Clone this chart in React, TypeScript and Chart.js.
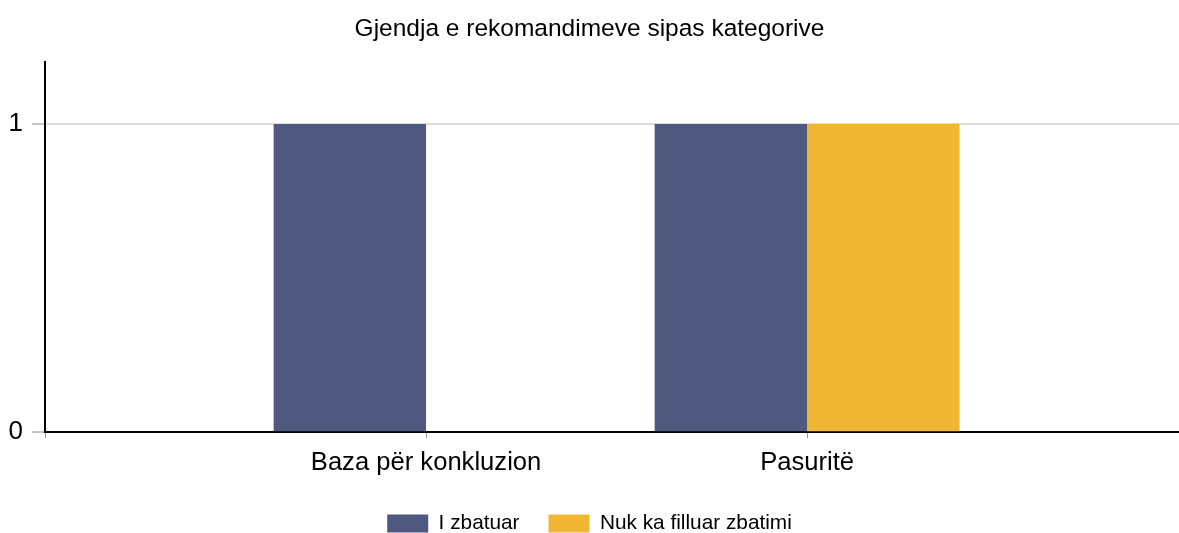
import { useEffect, useRef } from 'react';
import { Chart, registerables } from 'chart.js';

Chart.register(...registerables);

const FONT = "'Liberation Sans', Arial, Helvetica, sans-serif";

const title = 'Gjendja e rekomandimeve sipas kategorive';
const categories = ['Baza për konkluzion', 'Pasuritë'];
const seriesNames = ['I zbatuar', 'Nuk ka filluar zbatimi'];
const iZbatuar = [1, 1];
const nukKaFilluar = [0, 1];
const seriesColors = ['#4F587E', '#F2B732'];
const yTicks = [0, 1];
const yMax = 1.2;

export default function App() {
  const ref = useRef<HTMLCanvasElement>(null);

  useEffect(() => {
    const toPoints = (vals: number[]) => categories.map((_, i) => ({ x: i, y: vals[i] }));
    const chart = new Chart(ref.current!, {
      type: 'bar',
      data: {
        datasets: [
          {
            label: seriesNames[0],
            data: toPoints(iZbatuar),
            backgroundColor: seriesColors[0],
            borderWidth: 0,
            barPercentage: 1,
            categoryPercentage: 0.8,
          },
          {
            label: seriesNames[1],
            data: toPoints(nukKaFilluar),
            backgroundColor: seriesColors[1],
            borderWidth: 0,
            barPercentage: 1,
            categoryPercentage: 0.8,
          },
        ],
      },
      options: {
        animation: false,
        responsive: true,
        maintainAspectRatio: false,
        layout: { padding: 0 },
        plugins: {
          title: {
            display: true,
            text: title,
            color: '#000',
            font: { family: FONT, size: 24.5, weight: 'normal' },
            padding: { top: 15, bottom: 18 },
          },
          legend: {
            position: 'bottom',
            labels: {
              color: '#000',
              font: { family: FONT, size: 20.8 },
              boxWidth: 41,
              boxHeight: 18,
              padding: 29,
            },
          },
          tooltip: { enabled: false },
        },
        scales: {
          x: {
            type: 'linear',
            offset: false,
            min: -1,
            max: 1.976,
            afterBuildTicks: (s: any) => {
              s.ticks = [s.min, ...categories.map((_, i) => i)].map((v) => ({ value: v }));
            },
            afterFit: (s: any) => {
              s.height = 52;
            },
            ticks: {
              autoSkip: false,
              maxRotation: 0,
              padding: 9,
              color: '#000',
              font: { family: FONT, size: 25.6 },
              callback: (v: any) => categories[v as number] ?? '',
            },
            grid: {
              offset: false,
              drawOnChartArea: false,
              tickLength: 6,
              tickColor: '#999',
              tickWidth: 1,
            },
            border: { color: '#000', width: 2 },
          },
          y: {
            min: 0,
            max: yMax,
            afterBuildTicks: (s: any) => {
              s.ticks = yTicks.map((v) => ({ value: v }));
            },
            afterFit: (s: any) => {
              s.width = 45;
            },
            ticks: {
              padding: 9,
              color: '#000',
              font: { family: FONT, size: 26 },
            },
            grid: {
              color: (ctx: any) => (ctx.tick && ctx.tick.value === 1 ? '#dcdcdc' : 'rgba(0,0,0,0)'),
              lineWidth: 2,
              tickLength: 13,
              tickColor: '#888',
              tickWidth: 1,
            },
            border: { color: '#000', width: 2 },
          },
        },
      },
    } as any);
    return () => chart.destroy();
  }, []);

  return (
    <div
      style={{
        position: 'fixed',
        left: 0,
        top: 0,
        width: 1179,
        height: 533,
        overflow: 'hidden',
        background: '#fff',
      }}
    >
      <div style={{ position: 'relative', width: 1179, height: 544 }}>
        <canvas ref={ref} />
      </div>
    </div>
  );
}
